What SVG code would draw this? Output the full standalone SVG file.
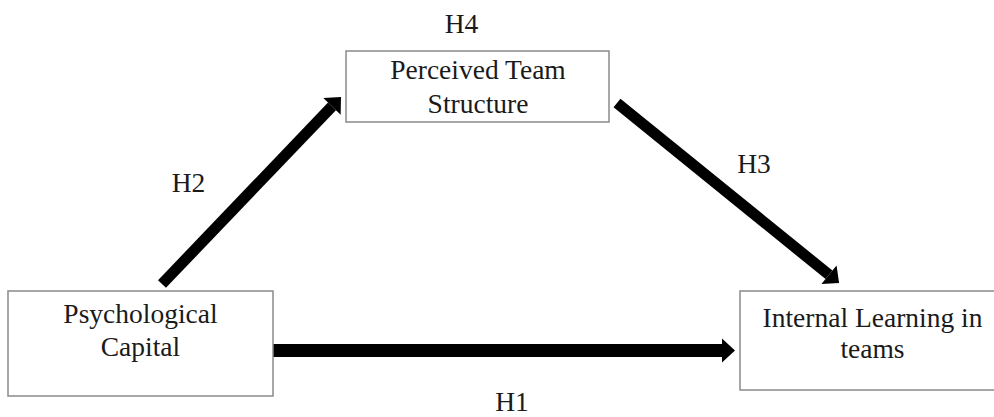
<svg xmlns="http://www.w3.org/2000/svg" width="994" height="417" viewBox="0 0 994 417">
  <style>
    .box { fill: #ffffff; stroke: #8a8a8a; stroke-width: 1.5; }
    .t { font-family: "Liberation Serif", "Times New Roman", serif; font-size: 27.5px; fill: #1a1a1a; text-anchor: middle; }
    .conn { stroke: #000000; fill: none; }
  </style>
  <defs>
    <marker id="head" markerUnits="userSpaceOnUse" markerWidth="14" markerHeight="26" refX="0" refY="12" orient="auto" overflow="visible">
      <path d="M0,0 L13,12 L0,24 Z" fill="#000000"/>
    </marker>
  </defs>
  <rect width="994" height="417" fill="#ffffff"/>

  <g id="connectors">
    <line class="conn" x1="273" y1="350.5" x2="722" y2="350.5" stroke-width="13" marker-end="url(#head)"/>
    <line class="conn" x1="162" y1="284" x2="332" y2="106.4" stroke-width="11" marker-end="url(#head)"/>
    <line class="conn" x1="617" y1="103" x2="829" y2="274.8" stroke-width="11" marker-end="url(#head)"/>
  </g>

  <g id="node-pts">
    <rect class="box" x="346" y="51" width="263" height="71"/>
    <text class="t" x="478" y="79">Perceived Team</text>
    <text class="t" x="478" y="113">Structure</text>
  </g>

  <g id="node-pc">
    <rect class="box" x="8" y="291" width="265" height="105"/>
    <text class="t" x="140.5" y="323">Psychological</text>
    <text class="t" x="140.5" y="356">Capital</text>
  </g>

  <g id="node-ilt">
    <rect class="box" x="740" y="291" width="264" height="99"/>
    <text class="t" x="872.5" y="327">Internal Learning in</text>
    <text class="t" x="872.5" y="358">teams</text>
  </g>

  <g id="labels">
    <text class="t" x="461.5" y="33">H4</text>
    <text class="t" x="188.5" y="192">H2</text>
    <text class="t" x="754" y="173">H3</text>
    <text class="t" x="512" y="411">H1</text>
  </g>
</svg>
